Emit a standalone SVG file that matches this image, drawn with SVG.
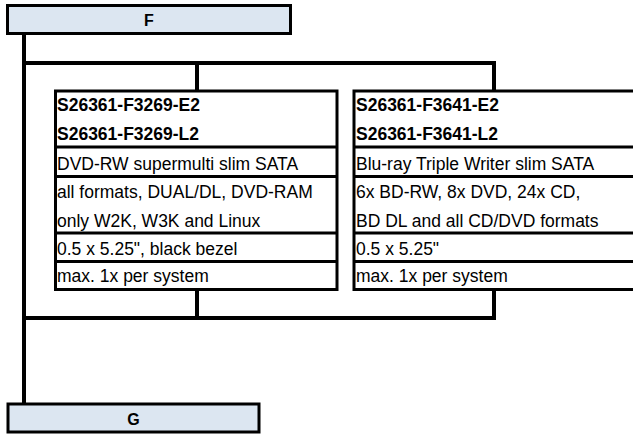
<svg xmlns="http://www.w3.org/2000/svg" width="633" height="434" viewBox="0 0 633 434">
<style>
.conn{stroke:#000;stroke-width:4;fill:none;stroke-linecap:square}
.hdr{fill:#dce6f1;stroke:#000;stroke-width:3}
.box{fill:#fff;stroke:#000;stroke-width:3}
.sep{stroke:#000;stroke-width:3}
.t{font-family:"Liberation Sans",Arial,sans-serif;font-size:17.5px;fill:#000}
.b{font-weight:bold}
.h{font-family:"Liberation Sans",Arial,sans-serif;font-size:16px;font-weight:bold;text-anchor:middle;fill:#000}
</style>
<rect width="633" height="434" fill="#fff"/>
<g id="connectors">
<path class="conn" d="M24,35 V402"/>
<path class="conn" d="M24,63 H494 V89"/>
<path class="conn" d="M197,63 V89"/>
<path class="conn" d="M24,318 H494 V291"/>
<path class="conn" d="M197,318 V291"/>
</g>
<g id="F">
<rect class="hdr" x="7.5" y="5.5" width="283" height="28"/>
<text class="h" x="149" y="25.5">F</text>
</g>
<g id="G">
<rect class="hdr" x="8" y="404" width="251" height="28"/>
<text class="h" x="133.5" y="424.5">G</text>
</g>
<g id="left">
<rect class="box" x="55.5" y="91" width="281.5" height="198.5"/>
<line class="sep" x1="55.5" y1="147" x2="337" y2="147"/>
<line class="sep" x1="55.5" y1="176.5" x2="337" y2="176.5"/>
<line class="sep" x1="55.5" y1="233" x2="337" y2="233"/>
<line class="sep" x1="55.5" y1="261.5" x2="337" y2="261.5"/>
<text class="t b" x="57" y="111">S26361-F3269-E2</text>
<text class="t b" x="57" y="140">S26361-F3269-L2</text>
<text class="t" x="57" y="170">DVD-RW supermulti slim SATA</text>
<text class="t" x="57" y="198">all formats, DUAL/DL, DVD-RAM</text>
<text class="t" x="57" y="226.5">only W2K, W3K and Linux</text>
<text class="t" x="57" y="255">0.5 x 5.25", black bezel</text>
<text class="t" x="57" y="282">max. 1x per system</text>
</g>
<g id="right">
<rect class="box" x="354" y="91" width="300" height="198.5"/>
<line class="sep" x1="354" y1="147" x2="654" y2="147"/>
<line class="sep" x1="354" y1="176.5" x2="654" y2="176.5"/>
<line class="sep" x1="354" y1="233" x2="654" y2="233"/>
<line class="sep" x1="354" y1="261.5" x2="654" y2="261.5"/>
<text class="t b" x="356" y="111">S26361-F3641-E2</text>
<text class="t b" x="356" y="140">S26361-F3641-L2</text>
<text class="t" x="356" y="170">Blu-ray Triple Writer slim SATA</text>
<text class="t" x="356" y="198">6x BD-RW, 8x DVD, 24x CD,</text>
<text class="t" x="356" y="226.5">BD DL and all CD/DVD formats</text>
<text class="t" x="356" y="255">0.5 x 5.25"</text>
<text class="t" x="356" y="282">max. 1x per system</text>
</g>
</svg>
